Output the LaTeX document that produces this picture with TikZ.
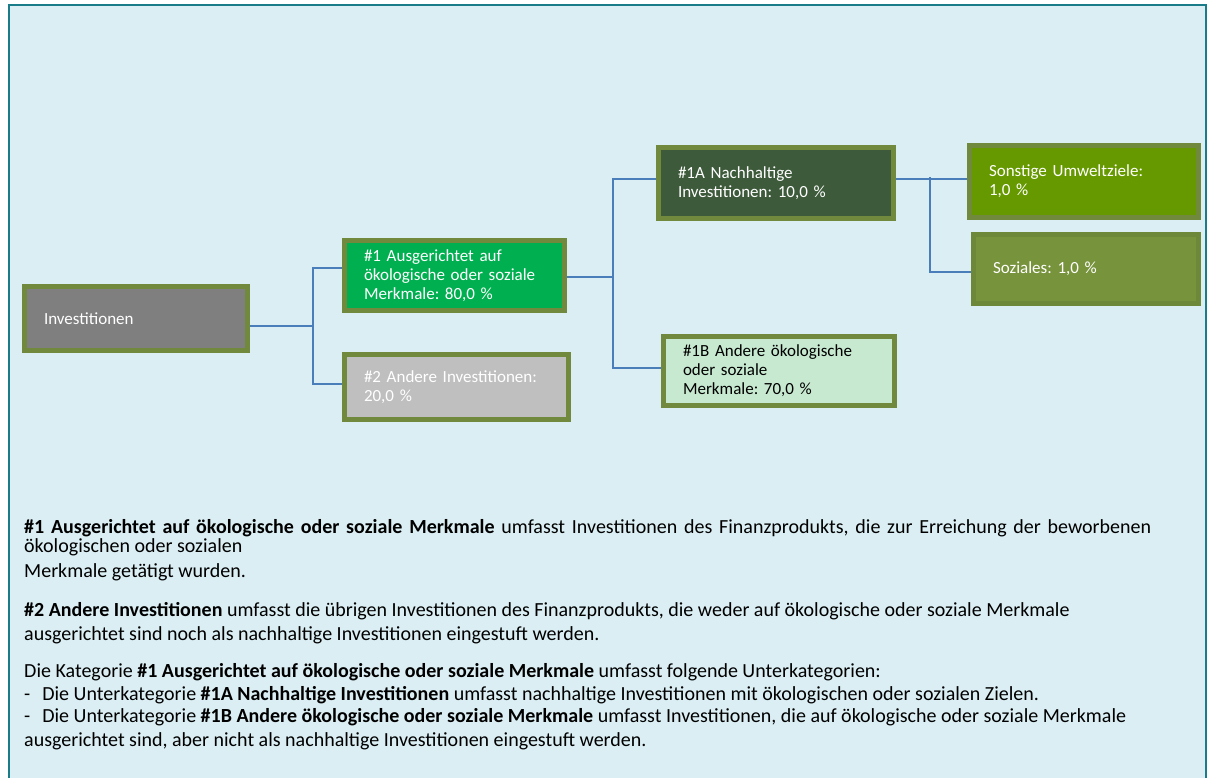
\documentclass[tikz,border=0pt]{standalone}
\usepackage{fontspec}
\setmainfont{Carlito}
\usetikzlibrary{calc}
\definecolor{bgblue}{HTML}{DAEEF3}
\definecolor{frameteal}{HTML}{1B7C89}
\definecolor{olive}{HTML}{71893D}
\definecolor{conncol}{HTML}{4A7EBB}
\definecolor{cgray}{HTML}{7F7F7F}
\definecolor{cgreen}{HTML}{00B050}
\definecolor{clgray}{HTML}{BFBFBF}
\definecolor{cdark}{HTML}{3D5A3B}
\definecolor{cmint}{HTML}{C7E9D0}
\definecolor{cleaf}{HTML}{669900}
\definecolor{colive}{HTML}{77933C}
\definecolor{colived}{HTML}{6C8838}
\tikzset{
  box/.style={draw=olive, line width=5pt, rectangle, align=left, inner xsep=19.5pt, inner ysep=0pt,
    text=white, font=\fontsize{17}{19}\selectfont\frenchspacing},
  bdim/.style 2 args={minimum width=#1pt-5pt, minimum height=#2pt-5pt, text width=#1pt-44pt},
  conn/.style={draw=conncol, line width=1.6pt},
  para/.style={anchor=base west, inner sep=0pt, text=black, font=\fontsize{20}{24}\selectfont\frenchspacing}
}
\begin{document}
\begin{tikzpicture}[x=1pt,y=-1pt]
\useasboundingbox (0,0) rectangle (1211,777);
\clip (0,0) rectangle (1211,777);
\fill[white] (0,0) rectangle (1211,777);
\draw[frameteal, fill=bgblue, line width=2pt] (8.5,5) rectangle (1206,800);

% boxes
\node[box, fill=cgray, bdim={228}{69}] (inv) at (136,318.5) {\mbox{Investitionen}};
\node[box, fill=cgreen, bdim={225}{75}] (b1) at (454.5,275.5) {\mbox{\#1 Ausgerichtet auf}\\\mbox{ökologische oder soziale}\\\mbox{Merkmale: 80,0 \%}};
\node[box, fill=clgray, bdim={229}{70}] (b2) at (456.5,387) {\mbox{\#2 Andere Investitionen:}\\\mbox{20,0 \%}};
\node[box, fill=cdark, bdim={240}{76}] (b1a) at (776,183) {\mbox{\#1A Nachhaltige}\\\mbox{Investitionen: 10,0 \%}};
\node[box, fill=cmint, text=black, bdim={236}{74}] (b1b) at (779,371) {\mbox{\#1B Andere ökologische}\\\mbox{oder soziale}\\\mbox{Merkmale: 70,0 \%}};
\node[box, fill=cleaf, bdim={234}{77}] (so) at (1084,181.5) {\mbox{Sonstige Umweltziele:}\\\mbox{1,0 \%}};
\node[box, fill=colive, draw=colived, bdim={230}{74}] (sz) at (1086,269) {\mbox{Soziales: 1,0 \%}};

% connectors
\coordinate (j1) at (313,326);
\coordinate (j2) at (613,277);
\coordinate (j3) at (930,179);
\draw[conn] ([yshift=-7.5pt]inv.east) -- (j1);
\draw[conn] (j1) |- ([yshift=7.5pt]b1.west);
\draw[conn] (j1) |- ([yshift=3pt]b2.west);
\draw[conn] ([yshift=-1.5pt]b1.east) -- (j2);
\draw[conn] (j2) |- ([yshift=4pt]b1a.west);
\draw[conn] (j2) |- ([yshift=3pt]b1b.west);
\draw[conn] ([yshift=4pt]b1a.east) -- ([yshift=4pt]b1a.east -| so.west);
\draw[conn] ([yshift=2pt]j3) |- ([yshift=-3pt]sz.west);

% explanatory text
\node[para] (t1) at (24,533) {\makebox[1127pt][s]{\textbf{\#1 Ausgerichtet auf ökologische oder soziale Merkmale} umfasst Investitionen des Finanzprodukts, die zur Erreichung der beworbenen}};
\node[para] (t2) at (24,552) {ökologischen oder sozialen};
\node[para] (t3) at (24,577) {Merkmale getätigt wurden.};
\node[para] (t4) at (24,616) {\textbf{\#2 Andere Investitionen} umfasst die übrigen Investitionen des Finanzprodukts, die weder auf ökologische oder soziale Merkmale};
\node[para] (t5) at (24,640) {ausgerichtet sind noch als nachhaltige Investitionen eingestuft werden.};
\node[para] (t6) at (24,677) {Die Kategorie \textbf{\#1 Ausgerichtet auf ökologische oder soziale Merkmale} umfasst folgende Unterkategorien:};
\node[para] (t7) at (24,700) {-\hspace{12pt}Die Unterkategorie \textbf{\#1A Nachhaltige Investitionen} umfasst nachhaltige Investitionen mit ökologischen oder sozialen Zielen.};
\node[para] (t8) at (24,722) {-\hspace{12pt}Die Unterkategorie \textbf{\#1B Andere ökologische oder soziale Merkmale} umfasst Investitionen, die auf ökologische oder soziale Merkmale};
\node[para] (t9) at (24,746) {ausgerichtet sind, aber nicht als nachhaltige Investitionen eingestuft werden.};
\end{tikzpicture}
\end{document}
